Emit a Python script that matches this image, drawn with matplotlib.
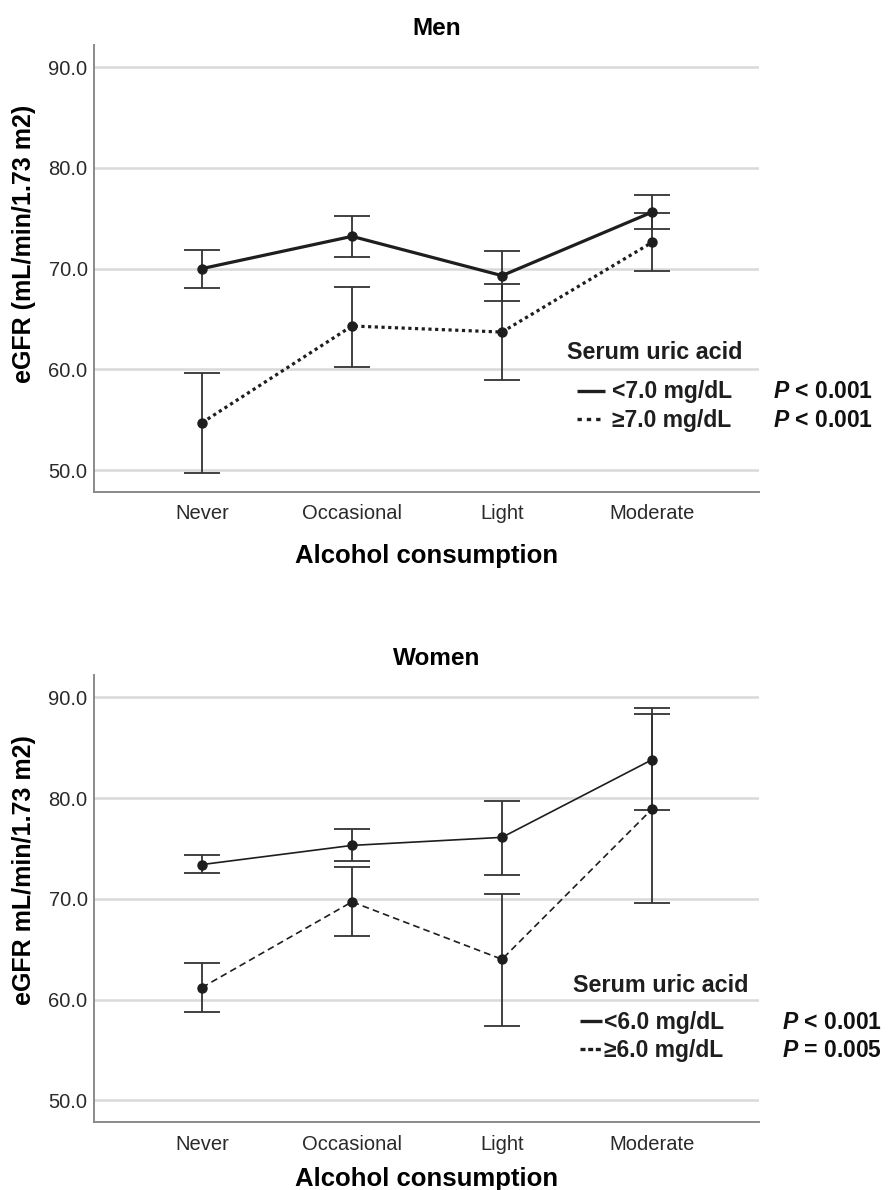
import matplotlib
matplotlib.use("Agg")
import matplotlib.pyplot as plt
import numpy as np

plt.rcParams['font.family'] = ['Liberation Sans', 'DejaVu Sans']
plt.rcParams['mathtext.fontset'] = 'custom'
plt.rcParams['mathtext.it'] = 'Liberation Sans:italic:bold'
plt.rcParams['mathtext.rm'] = 'Liberation Sans:bold'

categories = ["Never", "Occasional", "Light", "Moderate"]

men_low_mean = [70.0, 73.2, 69.3, 75.6]
men_low_lo = [68.1, 71.2, 66.8, 73.9]
men_low_hi = [71.8, 75.2, 71.7, 77.3]
men_high_mean = [54.7, 64.3, 63.7, 72.6]
men_high_lo = [49.7, 60.2, 58.9, 69.8]
men_high_hi = [59.6, 68.2, 68.5, 75.5]

women_low_mean = [73.4, 75.3, 76.1, 83.8]
women_low_lo = [72.6, 73.8, 72.4, 78.8]
women_low_hi = [74.3, 76.9, 79.7, 88.9]
women_high_mean = [61.2, 69.7, 64.0, 78.9]
women_high_lo = [58.8, 66.3, 57.4, 69.6]
women_high_hi = [63.6, 73.2, 70.5, 88.3]

yticks = [50.0, 60.0, 70.0, 80.0, 90.0]

panels = [
    dict(title="Men", ylabel="eGFR (mL/min/1.73 m2)",
         low=(men_low_mean, men_low_lo, men_low_hi),
         high=(men_high_mean, men_high_lo, men_high_hi),
         labels=["<7.0 mg/dL", "\u22657.0 mg/dL"],
         pvals=["$P$ < 0.001", "$P$ < 0.001"],
         lw=2.3, hs=(0, (1.0, 1.1)), legs=(0, (1.3, 1.5)),
         rect=[0.106, 0.5868, 0.7458, 0.3754],
         ylab_y=0.555, xlab_pad=15,
         leg=dict(tx=0.8435, ty=0.3105, rows=(0.2232, 0.1605),
                  h0=0.726, h1=0.768, t0=0.779, px=773)),
    dict(title="Women", ylabel="eGFR mL/min/1.73 m2)",
         low=(women_low_mean, women_low_lo, women_low_hi),
         high=(women_high_mean, women_high_lo, women_high_hi),
         labels=["<6.0 mg/dL", "\u22656.0 mg/dL"],
         pvals=["$P$ < 0.001", "$P$ = 0.005"],
         lw=1.2, hs=(0, (4, 2.5)), legs=(0, (1.5, 0.8)),
         rect=[0.106, 0.0571, 0.7458, 0.3756],
         ylab_y=0.564, xlab_pad=10,
         leg=dict(tx=0.852, ty=0.3065, rows=(0.2237, 0.161),
                  h0=0.7306, h1=0.7637, t0=0.767, px=782)),
]

fig = plt.figure(figsize=(8.91, 11.90), dpi=100)
x = np.arange(len(categories))
col = "#1e1e1e"

for p in panels:
    ax = fig.add_axes(p["rect"])
    for key, ls in (("low", "-"), ("high", p["hs"])):
        m, lo, hi = (np.array(v) for v in p[key])
        ax.errorbar(x, m, yerr=[m - lo, hi - m], fmt="none", ecolor="#333333",
                    elinewidth=1.3, capsize=13, capthick=1.3, zorder=3)
        ax.plot(x, m, color=col, lw=p["lw"], linestyle=ls, marker="o",
                markersize=6.5, zorder=4)
    ax.set_xlim(-0.717, 3.713)
    ax.set_ylim(47.85, 92.2)
    ax.set_yticks(yticks)
    ax.set_yticklabels([f"{v:.1f}" for v in yticks])
    ax.set_xticks(x)
    ax.set_xticklabels(categories)
    ax.tick_params(axis="x", length=0, labelsize=14.5, colors="#2a2a2a", pad=9)
    ax.tick_params(axis="y", length=0, labelsize=14.5, colors="#2a2a2a", pad=5)
    ax.yaxis.grid(True, color="#d9d9d9", lw=1.8)
    ax.set_axisbelow(True)
    for s in ("top", "right"):
        ax.spines[s].set_visible(False)
    for s in ("left", "bottom"):
        ax.spines[s].set_color("#8a8a8a")
        ax.spines[s].set_linewidth(1.4)
    ax.set_title(p["title"], fontsize=17.5, fontweight="bold", pad=7, x=0.515)
    ax.set_xlabel("Alcohol consumption", fontsize=18.5, fontweight="bold",
                  labelpad=p["xlab_pad"])
    ax.set_ylabel(p["ylabel"], fontsize=18, fontweight="bold")
    ax.yaxis.set_label_coords(-0.088, p["ylab_y"])

    lg = p["leg"]
    ax.text(lg["tx"], lg["ty"], "Serum uric acid", transform=ax.transAxes,
            fontsize=16.8, fontweight="bold", ha="center", va="center",
            color="#1e1e1e")
    for ry, ls, lab, pv in zip(lg["rows"], ("-", p["legs"]), p["labels"], p["pvals"]):
        ax.plot([lg["h0"], lg["h1"]], [ry + 0.003, ry + 0.003],
                transform=ax.transAxes, color=col, lw=2.4, linestyle=ls,
                solid_capstyle="butt", dash_capstyle="butt", clip_on=False)
        ax.text(lg["t0"], ry, lab, transform=ax.transAxes, fontsize=16.5,
                fontweight="bold", ha="left", va="center", color="#1e1e1e")
        yfig = (p["rect"][1] + ry * p["rect"][3])
        fig.text(lg["px"] / 891, yfig, pv, fontsize=16.5, fontweight="bold",
                 ha="left", va="center", color="#111111")

fig.savefig("out.png", dpi=100)
